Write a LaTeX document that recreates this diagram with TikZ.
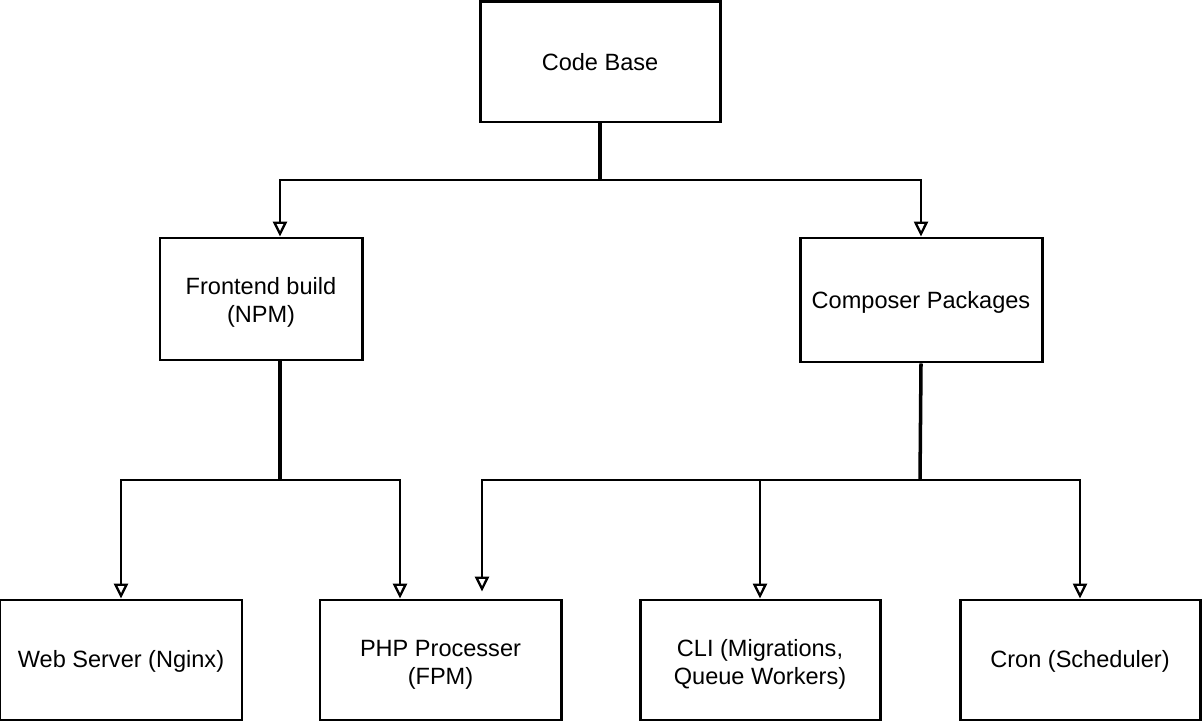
\documentclass[tikz,border=0pt]{standalone}
\usepackage{fontspec}
\setmainfont{Liberation Sans}
\usetikzlibrary{arrows.meta,calc}
\newcommand\lowerby[1]{\rule{0pt}{\dimexpr 9.8pt+#1\relax}}
\tikzset{
  box/.style={draw=black, line width=1.7pt, minimum width=#1, inner sep=0pt, align=center,
    font=\fontsize{13.4pt}{15.9pt}\selectfont},
  conn/.style={draw=black, line width=1.3pt, -{Triangle[open, length=8.5pt, width=8pt, line width=1.3pt]}},
  trunk/.style={draw=black, line width=2pt},
}
\begin{document}
\begin{tikzpicture}[x=0.02cm, y=-0.02cm]
\useasboundingbox (0,0) rectangle (1202,722);
% boxes
\node[box=240*0.02cm, minimum height=120*0.02cm] (cb) at (600,62) {Code Base};
\node[box=202*0.02cm, minimum height=122*0.02cm] (fe) at (261,299) {\lowerby{3.4pt}Frontend build\\(NPM)};
\node[box=242*0.02cm, minimum height=124*0.02cm] (cp) at (921,300) {\lowerby{2.6pt}Composer Packages};
\node[box=242*0.02cm, minimum height=120*0.02cm] (ws) at (121,660) {\lowerby{2pt}Web Server (Nginx)};
\node[box=241*0.02cm, minimum height=120*0.02cm] (php) at (440.5,660) {\lowerby{4.4pt}PHP Processer\\(FPM)};
\node[box=240*0.02cm, minimum height=120*0.02cm] (cli) at (760,660) {\lowerby{4.4pt}CLI (Migrations,\\Queue Workers)};
\node[box=240*0.02cm, minimum height=120*0.02cm] (cron) at (1080,660) {\lowerby{2pt}Cron (Scheduler)};
% junctions
\coordinate (j1) at (600,180);
\coordinate (j2) at (280,480);
\coordinate (j3) at (920,480);
% code base -> frontend / composer
\draw[trunk] (cb.south) -- (j1);
\draw[conn] (j1) -| ($(fe.north)+(19,0)$);
\draw[conn] (j1) -| (cp.north);
% frontend -> web server / php
\draw[trunk] ($(fe.south)+(19,0)$) -- (j2);
\draw[conn] (j2) -| (ws.north);
\draw[conn] (j2) -| ($(php.north)+(-40.5,0)$);
% composer -> php / cli / cron
\draw[trunk] (cp.south) -- (j3);
\draw[conn] (j3) -| ($(php.north)+(41.5,-7)$);
\draw[conn] (j3) -| (cli.north);
\draw[conn] (j3) -| (cron.north);
\end{tikzpicture}
\end{document}
